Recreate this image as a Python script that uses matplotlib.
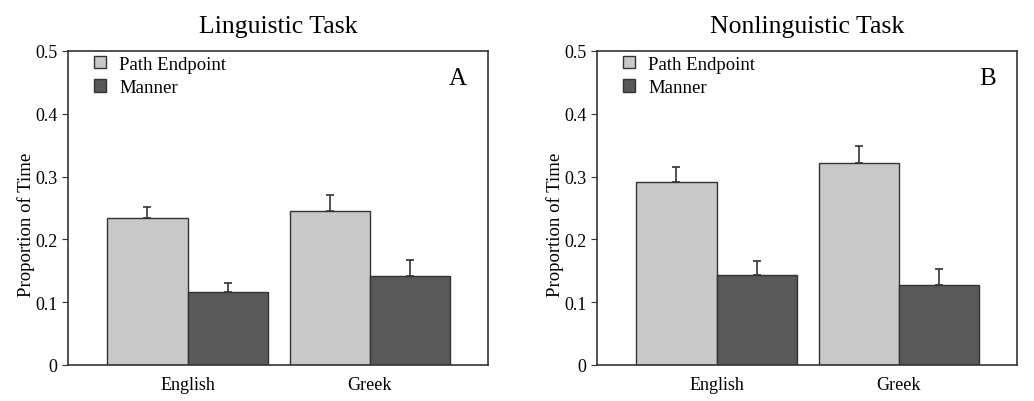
import numpy as np
import matplotlib.pyplot as plt

plt.rcParams['font.family'] = ['Liberation Serif', 'DejaVu Serif']

# data
languages = ['English', 'Greek']
series = ['Path Endpoint', 'Manner']

ling_path = [0.234, 0.245]
ling_path_err = [0.018, 0.026]
ling_manner = [0.117, 0.141]
ling_manner_err = [0.014, 0.026]

nonling_path = [0.291, 0.322]
nonling_path_err = [0.025, 0.026]
nonling_manner = [0.144, 0.128]
nonling_manner_err = [0.021, 0.025]

panels = [
    ('Linguistic Task', 'A', ling_path, ling_path_err, ling_manner, ling_manner_err),
    ('Nonlinguistic Task', 'B', nonling_path, nonling_path_err, nonling_manner, nonling_manner_err),
]

light = '#c9c9c9'
dark = '#595959'
edge = '#333333'

fig = plt.figure(figsize=(10.34, 4.02), dpi=100)
lefts = [68 / 1034, 597 / 1034]
w = 420 / 1034
bottom = 1 - 366 / 402
h = (366 - 52) / 402

x = np.arange(len(languages))
bw = 0.44

for left, (title, letter, p, pe, m, me) in zip(lefts, panels):
    ax = fig.add_axes([left, bottom, w, h])
    ax.bar(x - bw / 2, p, bw, color=light, edgecolor=edge, linewidth=1.0,
           label=series[0], zorder=2)
    ax.bar(x + bw / 2, m, bw, color=dark, edgecolor=edge, linewidth=1.0,
           label=series[1], zorder=2)
    ax.errorbar(x - bw / 2, p, yerr=[np.zeros(len(pe)), pe], fmt='none',
                ecolor=edge, elinewidth=1.2, capsize=3, capthick=1.2, zorder=1)
    ax.errorbar(x + bw / 2, m, yerr=[np.zeros(len(me)), me], fmt='none',
                ecolor=edge, elinewidth=1.2, capsize=3, capthick=1.2, zorder=1)
    ax.set_xlim(-0.655, 1.647)
    ax.set_ylim(0, 0.5)
    ax.set_yticks([0, 0.1, 0.2, 0.3, 0.4, 0.5])
    ax.set_yticklabels(['0', '0.1', '0.2', '0.3', '0.4', '0.5'])
    ax.set_xticks(x)
    ax.set_xticklabels(languages)
    ax.tick_params(axis='x', length=0, pad=8, labelsize=13)
    ax.tick_params(axis='y', direction='out', length=4, labelsize=13, color=edge)
    for s in ax.spines.values():
        s.set_color(edge)
        s.set_linewidth(1.2)
    ax.set_ylabel('Proportion of Time', fontsize=13.5)
    ax.yaxis.set_label_coords(-0.078, 0.45)
    ax.set_title(title, fontsize=18.5, pad=14)
    ax.text(0.95, 0.95, letter, transform=ax.transAxes, fontsize=18,
            ha='right', va='top')
    ax.legend(loc='upper left', frameon=False, fontsize=13.5, handlelength=0.65,
              handleheight=0.65, handletextpad=0.7, labelspacing=0.35,
              borderpad=0, borderaxespad=0, bbox_to_anchor=(0.062, 0.985))

fig.savefig('out.png', dpi=100)
